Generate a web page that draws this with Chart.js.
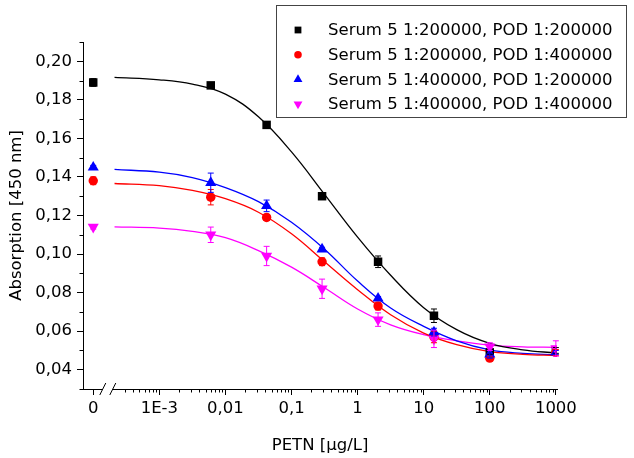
<!DOCTYPE html>
<html>
<head>
<meta charset="utf-8">
<script src="https://cdn.jsdelivr.net/npm/chart.js@4.4.1/dist/chart.umd.min.js"></script>
<style>
  html, body { margin: 0; padding: 0; background: #fff; }
</style>
</head>
<body>
<canvas id="myChart" width="634" height="458"></canvas>
<script>
// PETN concentration [ug/L], 0 = blank (drawn left of the axis break)
const conc = [0, 0.006, 0.042, 0.29, 2.04, 14.3, 100, 1000]

const seriesNames = [
    'Serum 5 1:200000, POD 1:200000',
    'Serum 5 1:200000, POD 1:400000',
    'Serum 5 1:400000, POD 1:200000',
    'Serum 5 1:400000, POD 1:400000'
]

// measured absorption + errors
const abs1 = [0.189, 0.1875, 0.167, 0.130, 0.096, 0.068, 0.049, 0.050]
const err1 = [0.002, 0.001, 0.001, 0.001, 0.003, 0.0035, 0.001, 0.0015]
const abs2 = [0.138, 0.1295, 0.119, 0.096, 0.073, 0.057, 0.046, 0.049]
const err2 = [0.002, 0.004, 0.0015, 0.002, 0.002, 0.003, 0.001, 0.0015]
const abs3 = [0.145, 0.137, 0.125, 0.1025, 0.077, 0.0595, 0.048, 0.049]
const err3 = [0.001, 0.005, 0.003, 0.001, 0.001, 0.002, 0.002, 0.001]
const abs4 = [0.114, 0.110, 0.099, 0.082, 0.066, 0.056, 0.052, 0.051]
const err4 = [0.001, 0.004, 0.005, 0.005, 0.0035, 0.0045, 0.002, 0.004]

// fitted curves
const fitConc = [0.00021, 0.001, 0.00316, 0.01, 0.0316, 0.1, 0.316, 1, 3.16, 10, 31.6, 100, 316, 1000]
const fit1 = [0.1916, 0.1904, 0.1882, 0.1830, 0.1712, 0.1530, 0.1310, 0.1088, 0.0890, 0.0722, 0.0608, 0.0537, 0.0503, 0.0487]
const fit2 = [0.1366, 0.1355, 0.1330, 0.1287, 0.1217, 0.1105, 0.0960, 0.0815, 0.0685, 0.0590, 0.0530, 0.0494, 0.0480, 0.0474]
const fit3 = [0.1439, 0.1425, 0.1397, 0.1345, 0.1272, 0.1165, 0.1025, 0.0860, 0.0720, 0.0625, 0.0550, 0.0503, 0.0485, 0.0477]
const fit4 = [0.1141, 0.1135, 0.1118, 0.1085, 0.1018, 0.0932, 0.0825, 0.0715, 0.0633, 0.0582, 0.0550, 0.0528, 0.0519, 0.0516]

// tick labels
const xTicks = [0, 0.001, 0.01, 0.1, 1, 10, 100, 1000]
const xTickLabels = ['0', '1E-3', '0,01', '0,1', '1', '10', '100', '1000']
const yTicks = [0.04, 0.06, 0.08, 0.10, 0.12, 0.14, 0.16, 0.18, 0.20]
const yTickLabels = ['0,04', '0,06', '0,08', '0,10', '0,12', '0,14', '0,16', '0,18', '0,20']
const yMinor = [0.03, 0.05, 0.07, 0.09, 0.11, 0.13, 0.15, 0.17, 0.19, 0.21]

const ZERO_AT = 1e-4     // where "0" sits on the log axis
const BREAK_AT = 1.66e-4 // the // mark

const colors = ['#000000', '#ff0000', '#0000ff', '#ff00ff']
const styles = [
    {pointStyle: 'rect', radius: 6, rotation: 0},
    {pointStyle: 'circle', radius: 4.7, rotation: 0},
    {pointStyle: 'triangle', radius: 6.4, rotation: 0},
    {pointStyle: 'triangle', radius: 6.4, rotation: 180}
]
const absAll = [abs1, abs2, abs3, abs4]
const errAll = [err1, err2, err3, err4]
const fitAll = [fit1, fit2, fit3, fit4]

const FONT = {family: '"DejaVu Sans", Verdana, sans-serif', size: 16.5}

const xPos = c => c === 0 ? ZERO_AT : c

let datasets = []
for (let i = 0; i < 4; i++) {
    datasets.push({
        label: seriesNames[i],
        data: conc.map((c, j) => ({x: xPos(c), y: absAll[i][j]})),
        errors: errAll[i],
        backgroundColor: colors[i],
        borderColor: colors[i],
        borderWidth: 0,
        pointStyle: styles[i].pointStyle,
        pointRadius: styles[i].radius,
        rotation: styles[i].rotation,
        showLine: false,
        order: 4 - i
    })
}
for (let i = 0; i < 4; i++) {
    datasets.push({
        label: 'fit' + i,
        data: fitConc.map((c, j) => ({x: c, y: fitAll[i][j]})),
        borderColor: colors[i],
        borderWidth: 1.3,
        pointRadius: 0,
        showLine: true,
        fill: false,
        tension: 0.4,
        order: 10 + i
    })
}

const extras = {
    id: 'extras',
    afterDatasetsDraw(chart) {
        const ctx = chart.ctx
        const xs = chart.scales.x, ys = chart.scales.y
        ctx.save()
        ctx.lineWidth = 1
        chart.data.datasets.forEach(ds => {
            if (!ds.errors) return
            ctx.strokeStyle = ds.borderColor
            ds.data.forEach((p, j) => {
                const px = xs.getPixelForValue(p.x)
                const y1 = ys.getPixelForValue(p.y + ds.errors[j])
                const y2 = ys.getPixelForValue(p.y - ds.errors[j])
                ctx.beginPath()
                ctx.moveTo(px, y1); ctx.lineTo(px, y2)
                ctx.moveTo(px - 3, y1); ctx.lineTo(px + 3, y1)
                ctx.moveTo(px - 3, y2); ctx.lineTo(px + 3, y2)
                ctx.stroke()
            })
        })
        ctx.restore()
    },
    afterDraw(chart) {
        const ctx = chart.ctx
        const xs = chart.scales.x, ys = chart.scales.y
        const area = chart.chartArea
        ctx.save()
        ctx.strokeStyle = '#000'
        ctx.lineWidth = 1

        // minor ticks
        ctx.beginPath()
        for (let k = -4; k <= 2; k++) {
            for (let m = 2; m <= 9; m++) {
                const v = m * Math.pow(10, k)
                if (v < 2.5e-4) continue
                const px = Math.round(xs.getPixelForValue(v)) + 0.5
                ctx.moveTo(px, area.bottom); ctx.lineTo(px, area.bottom + 3.5)
            }
        }
        yMinor.forEach(v => {
            const py = Math.round(ys.getPixelForValue(v)) + 0.5
            ctx.moveTo(area.left, py); ctx.lineTo(area.left - 3.5, py)
        })
        ctx.stroke()

        // axis break
        const bx = xs.getPixelForValue(BREAK_AT)
        const by = area.bottom
        ctx.fillStyle = '#fff'
        ctx.fillRect(bx - 5, by - 2, 10, 4)
        ctx.beginPath()
        ctx.moveTo(bx - 8, by + 6); ctx.lineTo(bx - 2, by - 6)
        ctx.moveTo(bx + 2, by + 6); ctx.lineTo(bx + 8, by - 6)
        ctx.stroke()

        // legend
        ctx.strokeStyle = '#444'
        ctx.strokeRect(276.5, 5.5, 350, 112)
        ctx.font = FONT.size + 'px ' + FONT.family
        ctx.textBaseline = 'middle'
        ctx.textAlign = 'left'
        for (let i = 0; i < 4; i++) {
            const ry = 30 + i * 24.7
            ctx.fillStyle = colors[i]
            Chart.helpers.drawPoint(ctx, {
                pointStyle: styles[i].pointStyle,
                radius: styles[i].radius * 0.8,
                rotation: styles[i].rotation,
                borderWidth: 0
            }, 298, ry)
            ctx.fillStyle = '#000'
            ctx.fillText(seriesNames[i], 328, ry + 1)
        }
        ctx.restore()
    }
}

const ctx = document.getElementById('myChart')

new Chart(ctx, {
    type: 'scatter',
    data: {datasets: datasets},
    plugins: [extras],
    options: {
        responsive: false,
        animation: false,
        layout: {padding: {top: 42, right: 77, left: 0, bottom: 0}},
        plugins: {
            legend: {display: false},
            tooltip: {enabled: false}
        },
        scales: {
            x: {
                type: 'logarithmic',
                min: 7.4e-5,
                max: 1040,
                afterBuildTicks: s => { s.ticks = xTicks.map(v => ({value: xPos(v)})) },
                afterFit: s => { s.height = 69 },
                ticks: {
                    callback: (v, i) => xTickLabels[i],
                    autoSkip: false,
                    maxRotation: 0,
                    padding: 4,
                    color: '#000',
                    font: FONT
                },
                grid: {drawOnChartArea: false, tickLength: 6, color: '#000'},
                border: {color: '#000', width: 1},
                title: {
                    display: true,
                    text: 'PETN [µg/L]',
                    color: '#000',
                    font: FONT,
                    padding: {top: 0, bottom: 2}
                }
            },
            y: {
                min: 0.03,
                max: 0.21,
                afterBuildTicks: s => { s.ticks = yTicks.map(v => ({value: v})) },
                afterFit: s => { s.width = 83 },
                ticks: {
                    callback: (v, i) => yTickLabels[i],
                    padding: 5,
                    color: '#000',
                    font: FONT
                },
                grid: {drawOnChartArea: false, tickLength: 6, color: '#000'},
                border: {color: '#000', width: 1},
                title: {
                    display: true,
                    text: 'Absorption [450 nm]',
                    color: '#000',
                    font: FONT,
                    padding: {top: 7, bottom: 0}
                }
            }
        }
    }
})
</script>
</body>
</html>
